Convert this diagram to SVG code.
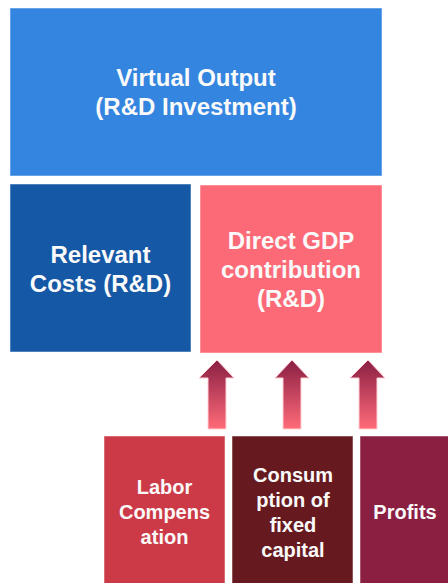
<svg xmlns="http://www.w3.org/2000/svg" width="448" height="583" viewBox="0 0 448 583">
<style>
text{font-family:"Liberation Sans",Arial,sans-serif;font-weight:bold;fill:#fafafa;text-anchor:middle}
.big{font-size:24px}
.sm{font-size:20px}
.box{stroke:#ffffff;stroke-opacity:0.5;stroke-width:1}
.arr{fill:url(#g);stroke:#ffd0d6;stroke-width:1}
</style>
<defs>
<linearGradient id="g" x1="0" y1="0" x2="0" y2="1">
<stop offset="0" stop-color="#8a1f44"/>
<stop offset="1" stop-color="#ff6b78"/>
</linearGradient>
</defs>
<rect width="448" height="583" fill="#ffffff"/>
<g id="virtual-output">
<rect class="box" x="10" y="8" width="372" height="168" fill="#3485e0"/>
<text class="big" x="196" y="86">Virtual Output</text>
<text class="big" x="196" y="115">(R&amp;D Investment)</text>
</g>
<g id="relevant-costs">
<rect class="box" x="10" y="184" width="181" height="168" fill="#1558a5"/>
<text class="big" x="100.5" y="263">Relevant</text>
<text class="big" x="100.5" y="292">Costs (R&amp;D)</text>
</g>
<g id="direct-gdp">
<rect class="box" x="200" y="185" width="182" height="168" fill="#fd6a77"/>
<text class="big" x="291" y="249">Direct GDP</text>
<text class="big" x="291" y="278">contribution</text>
<text class="big" x="291" y="307">(R&amp;D)</text>
</g>
<g id="connectors">
<polygon class="arr" points="217,360 234,378 226,378 226,429 208,429 208,378 199,378"/>
<polygon class="arr" points="292,360 309,378 301,378 301,429 283,429 283,378 275,378"/>
<polygon class="arr" points="368,360 385,378 377,378 377,429 359,429 359,378 350,378"/>
</g>
<g id="labor-compensation">
<rect class="box" x="104" y="436" width="121" height="150" fill="#cc3a47"/>
<text class="sm" x="164.5" y="494">Labor</text>
<text class="sm" x="164.5" y="519">Compens</text>
<text class="sm" x="164.5" y="544">ation</text>
</g>
<g id="consumption-fixed-capital">
<rect class="box" x="232" y="436" width="121" height="150" fill="#661a20"/>
<text class="sm" x="293" y="482">Consum</text>
<text class="sm" x="293" y="507">ption of</text>
<text class="sm" x="293" y="532">fixed</text>
<text class="sm" x="293" y="557">capital</text>
</g>
<g id="profits">
<rect class="box" x="360" y="436" width="92" height="150" fill="#8a1f42"/>
<text class="sm" x="405" y="519">Profits</text>
</g>
</svg>
